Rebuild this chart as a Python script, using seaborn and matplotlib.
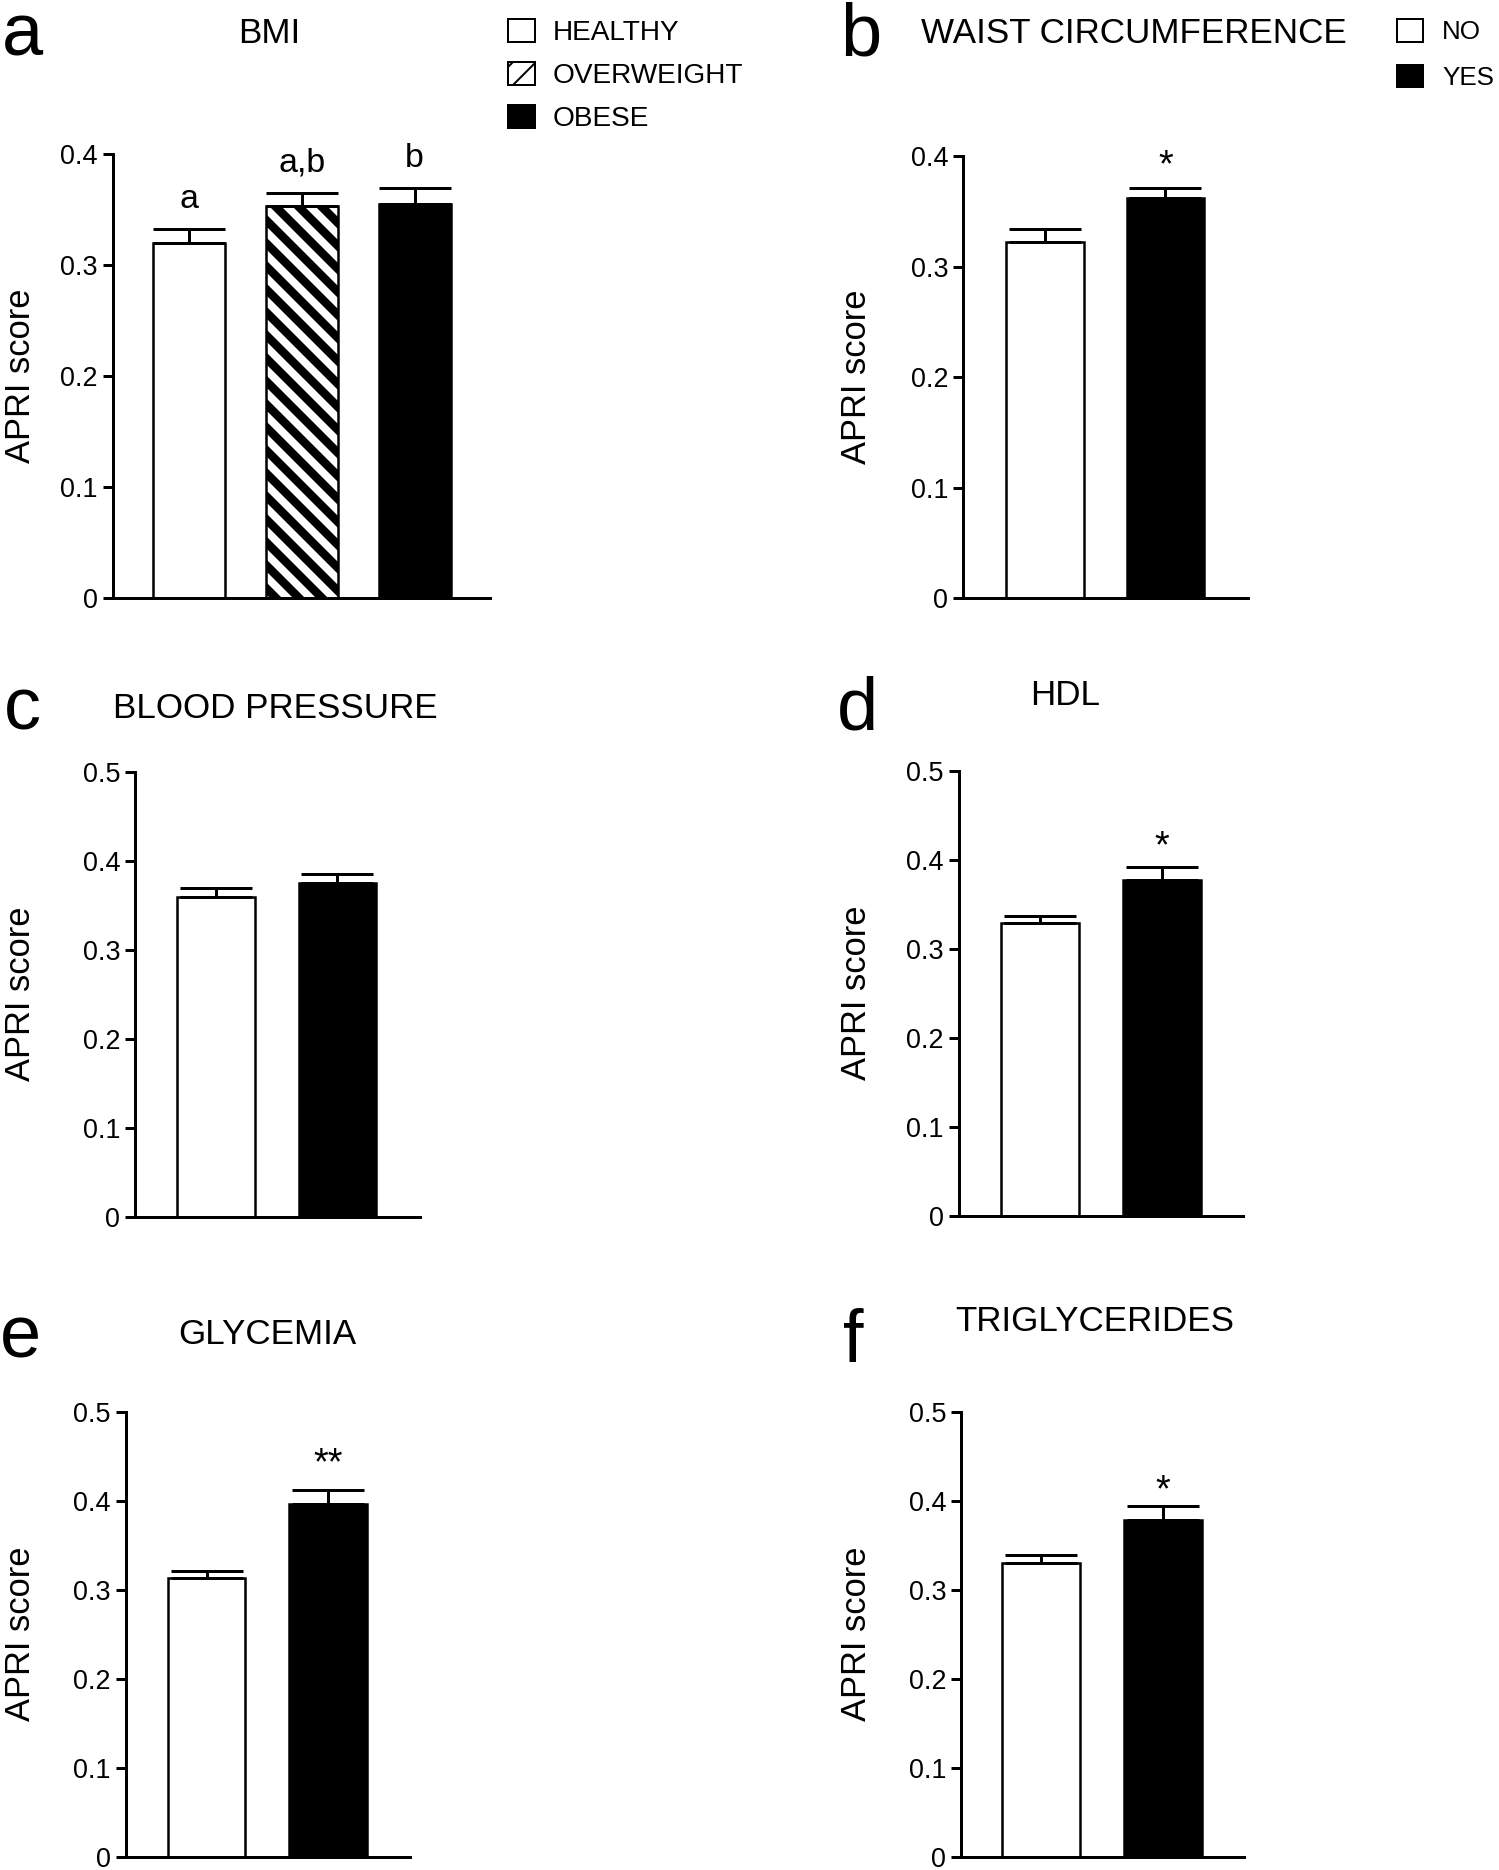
import numpy as np
import pandas as pd
import matplotlib
matplotlib.use("Agg")
import matplotlib.pyplot as plt
from matplotlib.patches import Patch
import seaborn as sns

# -------------------------
# Data (mean APRI score and upper SEM)
# -------------------------
bmi_groups = ["HEALTHY", "OVERWEIGHT", "OBESE"]
bmi_mean = [0.320, 0.353, 0.355]
bmi_sem = [0.012, 0.012, 0.014]
bmi_marks = ["a", "a,b", "b"]

yes_no = ["NO", "YES"]

waist_mean = [0.322, 0.362]
waist_sem = [0.012, 0.009]
waist_marks = ["", "*"]

bp_mean = [0.360, 0.375]
bp_sem = [0.010, 0.010]
bp_marks = ["", ""]

hdl_mean = [0.329, 0.377]
hdl_sem = [0.008, 0.015]
hdl_marks = ["", "*"]

gly_mean = [0.3135, 0.397]
gly_sem = [0.008, 0.015]
gly_marks = ["", "**"]

tg_mean = [0.3305, 0.379]
tg_sem = [0.0085, 0.0157]
tg_marks = ["", "*"]

ticks_04 = [0, 0.1, 0.2, 0.3, 0.4]
ticks_05 = [0, 0.1, 0.2, 0.3, 0.4, 0.5]
tick_labels_04 = ["0", "0.1", "0.2", "0.3", "0.4"]
tick_labels_05 = ["0", "0.1", "0.2", "0.3", "0.4", "0.5"]

# -------------------------
# Figure setup
# -------------------------
W, H = 1499, 1870
DPI = 138


def pt(px):
    # pixel size -> points at this dpi
    return px * 72 / DPI


sns.set_style("ticks")
plt.rcParams["font.family"] = ["Liberation Sans", "DejaVu Sans"]
plt.rcParams.update({
    "axes.linewidth": pt(3),
    "ytick.major.width": pt(3),
    "ytick.major.size": pt(10),
    "ytick.major.pad": pt(5),
    "ytick.labelsize": pt(27),
    "ytick.color": "black",
    "xtick.color": "black",
    "text.color": "black",
    "axes.labelcolor": "black",
    "axes.edgecolor": "black",
    "hatch.linewidth": pt(8.5),
    "hatch.color": "black",
})

fig = plt.figure(figsize=(W / DPI, H / DPI), dpi=DPI)

panels = [
    dict(letter="a", title="BMI", groups=bmi_groups, mean=bmi_mean, sem=bmi_sem, marks=bmi_marks,
         colors=["white", "white", "black"], hatches=["", "\\\\", ""],
         rect=(113, 154, 490, 598), xlim=(-0.673, 2.668), ymax=0.4,
         letter_xy=(2, 55), title_xy=(269, 43), ylab_xy=(21, 376), mark_px=34, mark_off=21),
    dict(letter="b", title="WAIST CIRCUMFERENCE", groups=yes_no, mean=waist_mean, sem=waist_sem,
         marks=waist_marks, colors=["white", "black"], hatches=["", ""],
         rect=(963, 156, 1248, 598), xlim=(-0.68, 1.685), ymax=0.4,
         letter_xy=(840, 55), title_xy=(1134, 43), ylab_xy=(856, 377), mark_px=38, mark_off=12),
    dict(letter="c", title="BLOOD PRESSURE", groups=yes_no, mean=bp_mean, sem=bp_sem,
         marks=bp_marks, colors=["white", "black"], hatches=["", ""],
         rect=(135, 772, 420, 1217), xlim=(-0.667, 1.68), ymax=0.5,
         letter_xy=(4, 729), title_xy=(275, 718), ylab_xy=(21, 994), mark_px=38, mark_off=5),
    dict(letter="d", title="HDL", groups=yes_no, mean=hdl_mean, sem=hdl_sem,
         marks=hdl_marks, colors=["white", "black"], hatches=["", ""],
         rect=(959, 771, 1243, 1216), xlim=(-0.664, 1.668), ymax=0.5,
         letter_xy=(837, 729), title_xy=(1065, 705), ylab_xy=(856, 993), mark_px=38, mark_off=10),
    dict(letter="e", title="GLYCEMIA", groups=yes_no, mean=gly_mean, sem=gly_sem,
         marks=gly_marks, colors=["white", "black"], hatches=["", ""],
         rect=(126, 1412, 410, 1857), xlim=(-0.663, 1.675), ymax=0.5,
         letter_xy=(0, 1357), title_xy=(267, 1344), ylab_xy=(21, 1634), mark_px=38, mark_off=16),
    dict(letter="f", title="TRIGLYCERIDES", groups=yes_no, mean=tg_mean, sem=tg_sem,
         marks=tg_marks, colors=["white", "black"], hatches=["", ""],
         rect=(961, 1412, 1244, 1857), xlim=(-0.656, 1.664), ymax=0.5,
         letter_xy=(843, 1362), title_xy=(1095, 1331), ylab_xy=(856, 1634), mark_px=38, mark_off=4),
]

axes = {}
for p in panels:
    l, t, r, b = p["rect"]
    ax = fig.add_axes([l / W, 1 - b / H, (r - l) / W, (b - t) / H])
    df = pd.DataFrame({"group": p["groups"], "apri": p["mean"]})
    sns.barplot(data=df, x="group", y="apri", hue="group", palette=p["colors"], legend=False,
                saturation=1, edgecolor="black", linewidth=pt(2.5), width=0.64,
                errorbar=None, ax=ax, zorder=2)
    for patch, h in zip(ax.patches, p["hatches"]):
        if h:
            patch.set_hatch(h)

    # upper SEM only
    n = len(p["groups"])
    xs = np.arange(n)
    ax.errorbar(xs, p["mean"], yerr=[np.zeros(n), p["sem"]], fmt="none", ecolor="black",
                elinewidth=pt(3), capsize=pt(36), capthick=pt(3), zorder=3)

    tops = np.array(p["mean"]) + np.array(p["sem"])
    for xi, top, mk in zip(xs, tops, p["marks"]):
        if mk:
            ax.annotate(mk, xy=(xi, top), xytext=(0, pt(p["mark_off"])), textcoords="offset points",
                        ha="center", va="baseline", fontsize=pt(p["mark_px"]))

    ax.set_xlim(*p["xlim"])
    ax.set_ylim(0, p["ymax"])
    if p["ymax"] == 0.4:
        ax.set_yticks(ticks_04, tick_labels_04)
    else:
        ax.set_yticks(ticks_05, tick_labels_05)
    ax.set_xticks([])
    ax.set_xlabel("")
    ax.set_ylabel("APRI score", fontsize=pt(34.5))
    ax.yaxis.set_label_coords(p["ylab_xy"][0] / W, 1 - p["ylab_xy"][1] / H, transform=fig.transFigure)
    ax.yaxis.label.set_va("center")
    sns.despine(ax=ax)

    fig.text(p["title_xy"][0] / W, 1 - p["title_xy"][1] / H, p["title"], ha="center",
             va="baseline", fontsize=pt(35))
    fig.text(p["letter_xy"][0] / W, 1 - p["letter_xy"][1] / H, p["letter"], ha="left",
             va="baseline", fontsize=pt(74))
    axes[p["letter"]] = ax


def add_legend(ax, labels, colors, hatches, left, top, spacing, fs, box_w, gap):
    handles = [Patch(facecolor=c, edgecolor="black", hatch=h, linewidth=pt(2))
               for c, h in zip(colors, hatches)]
    leg = ax.legend(handles, labels, loc="upper left", bbox_to_anchor=(left / W, 1 - top / H),
                    bbox_transform=fig.transFigure, frameon=False, fontsize=pt(fs),
                    handlelength=box_w / fs, handleheight=25 / fs, handletextpad=gap / fs,
                    labelspacing=spacing, borderpad=0, borderaxespad=0)
    for hp in leg.get_patches():
        if hasattr(hp, "set_hatch_linewidth"):
            hp.set_hatch_linewidth(pt(2))
    return leg


add_legend(axes["a"], bmi_groups, ["white", "white", "black"], ["", "//", ""], 508, 19, 0.56,
           28, 27, 18)
add_legend(axes["b"], yes_no, ["white", "black"], ["", ""], 1397, 19, 0.79, 26, 26, 19)

fig.savefig("out.png", dpi=DPI, facecolor="white")
